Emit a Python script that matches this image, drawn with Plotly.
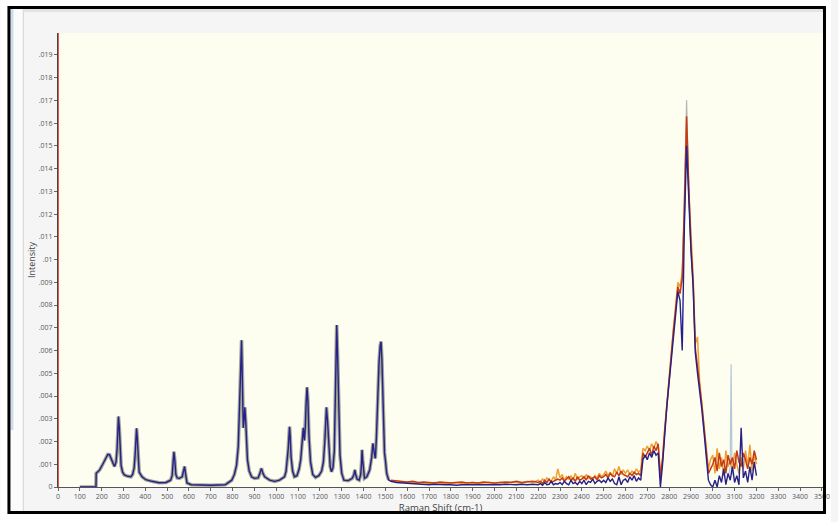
import plotly.graph_objects as go

# ---------------- data (intensity in units of 0.001) ----------------
wavenumber_low = [100, 174, 175, 191, 205, 221, 228, 236, 244, 252, 259, 266, 271, 274, 277, 281, 285, 289,
                  296, 304, 320, 334, 342, 349, 354, 357, 360, 363, 367, 372, 385, 402, 430, 463, 495, 516,
                  523, 527, 531, 535, 540, 546, 556, 569, 575, 580, 585, 591, 610, 645, 700, 766, 780, 796,
                  808, 818, 826, 834, 838, 841, 844, 849, 853, 856, 860, 864, 868, 876, 887, 900, 917, 925,
                  932, 939, 947, 970, 993, 1015, 1038, 1045, 1050, 1055, 1058, 1061, 1064, 1068, 1075, 1083,
                  1095, 1105, 1112, 1118, 1124, 1129, 1133, 1137, 1141, 1145, 1150, 1157, 1167, 1180, 1195,
                  1208, 1216, 1222, 1226, 1230, 1235, 1241, 1247, 1253, 1260, 1266, 1270, 1274, 1277, 1281,
                  1285, 1292, 1300, 1310, 1330, 1348, 1356, 1360, 1364, 1370, 1380, 1387, 1391, 1393, 1396,
                  1400, 1404, 1415, 1428, 1437, 1443, 1449, 1454, 1459, 1463, 1467, 1471, 1476, 1480, 1484,
                  1488, 1492, 1496, 1500, 1506, 1515]
intensity_low = [0, 0, 0.6, 0.75, 1.0, 1.33, 1.43, 1.42, 1.27, 1.05, 0.9, 1.1, 1.7, 2.5, 3.1, 2.6, 1.6, 0.95,
                 0.65, 0.53, 0.47, 0.45, 0.55, 0.85, 1.5, 2.1, 2.58, 2.2, 1.2, 0.65, 0.45, 0.32, 0.25, 0.19, 0.2, 0.3,
                 0.5, 0.9, 1.55, 1.2, 0.55, 0.4, 0.38, 0.45, 0.65, 0.9, 0.55, 0.18, 0.1, 0.09, 0.08, 0.1, 0.18, 0.3,
                 0.55, 0.95, 1.8, 3.8, 5.5, 6.45, 5.3, 2.6, 3.0, 3.5, 2.9, 1.8, 1.2, 0.7, 0.45, 0.38, 0.4, 0.6,
                 0.82, 0.6, 0.45, 0.3, 0.25, 0.3, 0.45, 0.7, 1.1, 1.7, 2.2, 2.65, 2.2, 1.3, 0.7, 0.45,
                 0.5, 0.8, 1.2, 1.8, 2.6, 2.05, 2.6, 3.7, 4.38, 3.8, 2.2, 1.1, 0.55, 0.42, 0.5,
                 0.7, 1.1, 1.9, 2.8, 3.5, 2.9, 1.6, 0.9, 0.67, 0.85, 1.6, 3.2, 5.6, 7.12, 5.8,
                 3.5, 1.4, 0.6, 0.3, 0.28, 0.38, 0.55, 0.75, 0.55, 0.35, 0.3, 0.55, 1.1, 1.63, 1.2,
                 0.6, 0.38, 0.45, 0.75, 1.3, 1.92, 1.5, 1.26, 2.2, 3.6, 4.6, 5.5, 6.2, 6.39, 5.6,
                 4.0, 2.4, 1.5, 1.19, 0.6, 0.31]

wavenumber_mid = list(range(1525, 2200, 25))
navy_mid = [0.25, 0.2, 0.18, 0.15, 0.15, 0.12, 0.12, 0.1, 0.12, 0.1, 0.1, 0.1, 0.08, 0.1, 0.1, 0.08, 0.1, 0.1,
            0.08, 0.1, 0.1, 0.12, 0.1, 0.1, 0.12, 0.1, 0.12]
orange_mid = [0.28, 0.25, 0.2, 0.2, 0.2, 0.18, 0.2, 0.15, 0.2, 0.18, 0.15, 0.18, 0.2, 0.15, 0.18, 0.2, 0.15, 0.18,
              0.2, 0.15, 0.2, 0.18, 0.22, 0.2, 0.18, 0.25, 0.2]
red_mid = [0.3, 0.28, 0.25, 0.22, 0.25, 0.2, 0.22, 0.2, 0.18, 0.22, 0.2, 0.18, 0.2, 0.22, 0.18, 0.2, 0.18, 0.22,
           0.2, 0.18, 0.2, 0.22, 0.2, 0.25, 0.2, 0.22, 0.25]

wavenumber_high = list(range(2200, 3210, 10))
navy_high = [0.1, 0.15, 0.08, 0.2, 0.1, 0.12, 0.25, 0.1, 0.15, 0.12,
             0.2, 0.1, 0.25, 0.15, 0.1, 0.3, 0.15, 0.2, 0.1, 0.25,
             0.15, 0.3, 0.1, 0.25, 0.2, 0.35, 0.15, 0.25, 0.3, 0.2,
             0.3, 0.2, 0.4, 0.25, 0.35, 0.15, 0.1, 0.45, 0.1, 0.3,
             0.35, 0.2, 0.45, 0.3, 0.5, 0.25, 0.4, 0.3, 1.2, 1.4,
             1.2, 1.5, 1.3, 1.6, 1.4, 1.5, 0.0, 1.0, 2.4, 3.6,
             4.6, 5.7, 6.7, 7.6, 8.6, 8.2, 6.0, 11.5, 15.0, 12.5,
             10.4, 8.8, 5.9, 5.0, 4.3, 3.4, 2.4, 1.4, 0.3, 0.1,
             0.0, 0.3, 0.0, 0.5, 0.2, 0.8, 0.1, 0.6, 0.3, 0.9,
             0.2, 0.5, 0.1, 2.6, 0.4, 0.7, 0.2, 0.9, 0.3, 1.1,
             0.5]
orange_high = [0.3, 0.2, 0.35, 0.25, 0.4, 0.3, 0.25, 0.45, 0.3, 0.8,
               0.4, 0.55, 0.3, 0.45, 0.35, 0.5, 0.3, 0.6, 0.35, 0.45,
               0.5, 0.35, 0.55, 0.4, 0.45, 0.3, 0.5, 0.4, 0.6, 0.45,
               0.55, 0.7, 0.5, 0.65, 0.45, 0.8, 0.6, 0.9, 0.55, 0.75,
               0.6, 0.75, 0.55, 0.7, 0.6, 0.8, 0.65, 0.75, 1.7, 1.6,
               1.8, 1.6, 1.9, 1.7, 2.0, 1.8, 0.6, 1.3, 2.6, 3.8,
               4.8, 5.9, 7.0, 8.0, 9.0, 8.8, 9.4, 12.0, 15.8, 13.0,
               10.8, 9.3, 6.3, 6.6, 4.6, 3.7, 2.7, 1.7, 0.8, 1.2,
               1.4, 0.6, 1.7, 0.8, 1.3, 0.5, 1.6, 0.9, 1.2, 0.7,
               1.5, 1.0, 0.6, 1.3, 0.8, 1.6, 0.9, 1.85, 0.7, 1.4,
               1.0]
red_high = [0.2, 0.25, 0.15, 0.3, 0.2, 0.35, 0.2, 0.25, 0.3, 0.35,
            0.3, 0.4, 0.25, 0.35, 0.45, 0.3, 0.4, 0.25, 0.45, 0.3,
            0.35, 0.45, 0.3, 0.5, 0.35, 0.4, 0.45, 0.3, 0.5, 0.4,
            0.45, 0.55, 0.4, 0.6, 0.5, 0.45, 0.65, 0.5, 0.7, 0.55,
            0.5, 0.45, 0.6, 0.5, 0.65, 0.55, 0.6, 0.5, 1.5, 1.3,
            1.5, 1.7, 1.4, 1.8, 1.6, 1.9, 0.4, 1.2, 2.5, 3.7,
            4.7, 5.8, 6.9, 7.8, 8.8, 8.5, 9.2, 12.3, 16.3, 13.2,
            10.6, 9.0, 6.1, 5.3, 4.5, 3.6, 2.6, 1.5, 0.6, 0.8,
            1.0, 1.3, 0.7, 1.5, 0.9, 1.2, 0.6, 1.4, 1.0, 1.3,
            0.8, 1.6, 1.1, 0.9, 1.5, 1.2, 0.8, 1.3, 1.0, 1.6,
            1.2]

gray_peak_x = [2860, 2870, 2880, 2890, 2900]
gray_peak_y = [9.0, 12.6, 17.0, 13.2, 10.6]
spike_x = [3075, 3080, 3084, 3088, 3095]
spike_y = [0.6, 0.9, 5.4, 0.7, 0.5]

y_tick_vals = list(range(0, 20))
y_tick_text = ["0", ".001", ".002", ".003", ".004", ".005", ".006", ".007", ".008", ".009",
               ".01", ".011", ".012", ".013", ".014", ".015", ".016", ".017", ".018", ".019"]
x_tick_vals = list(range(0, 3700, 100))
x_tick_text = [str(v) for v in x_tick_vals]

# ---------------- colours ----------------
NAVY = "#25208a"
ORANGE = "#f0a030"
RED = "#c43c16"
HALO = "#a3a794"

fig = go.Figure()
fig.add_trace(go.Scatter(x=wavenumber_low, y=intensity_low, mode="lines",
                         line=dict(color=HALO, width=3.6), hoverinfo="skip"))
fig.add_trace(go.Scatter(x=gray_peak_x, y=gray_peak_y, mode="lines",
                         line=dict(color="#b5b5b5", width=1.2)))
fig.add_trace(go.Scatter(x=spike_x, y=spike_y, mode="lines",
                         line=dict(color="#b4c6d8", width=1.2)))
fig.add_trace(go.Scatter(x=wavenumber_mid + wavenumber_high, y=orange_mid + orange_high, mode="lines",
                         line=dict(color=ORANGE, width=1.5)))
fig.add_trace(go.Scatter(x=wavenumber_mid + wavenumber_high, y=red_mid + red_high, mode="lines",
                         line=dict(color=RED, width=1.5)))
fig.add_trace(go.Scatter(x=wavenumber_low + wavenumber_mid + wavenumber_high,
                         y=intensity_low + navy_mid + navy_high, mode="lines",
                         line=dict(color=NAVY, width=1.4)))

# ---------------- decoration (pixel helpers) ----------------
L, R, T, B = 58, 830, 33, 487


def px(p):
    return (p - L) / (R - L)


def py(p):
    return (B - p) / (B - T)


def rect(x0, y0, x1, y1, fill, layer="below", line_w=0, line_c=None):
    return dict(type="rect", xref="paper", yref="paper",
                x0=px(x0), x1=px(x1), y0=py(y0), y1=py(y1),
                fillcolor=fill, line=dict(width=line_w, color=line_c or fill), layer=layer)


shapes = [
    rect(0, 0, 8, 522, "white"),
    rect(832, 0, 838, 522, "white"),
    rect(0, 0, 838, 7, "white"),
    rect(0, 513, 838, 522, "white"),
    rect(10, 9, 22, 513, "#fbfbfb"),
    rect(10, 9, 13, 430, "#cddbea"),
    rect(22.5, 9, 23.5, 513, "#d6d6d6"),
    rect(23, 9, 832, 12, "#e3e3e3"),
    dict(type="line", xref="x", yref="paper", x0=0, x1=0, y0=0, y1=1,
         line=dict(color="#e8564e", width=2), layer="above"),
    dict(type="rect", xref="paper", yref="paper", x0=px(8.5), x1=px(831.5), y0=py(7.5), y1=py(512.5),
         line=dict(color="black", width=3), fillcolor="rgba(0,0,0,0)", layer="above"),
]

fig.update_layout(
    width=838, height=522,
    margin=dict(l=L, r=838 - R, t=T, b=522 - B),
    paper_bgcolor="#f5f5f5", plot_bgcolor="#fdfdf0",
    showlegend=False,
    font=dict(family="Open Sans", size=7, color="#555555"),
    shapes=shapes,
)
fig.update_xaxes(range=[0, 3505], tickvals=x_tick_vals, ticktext=x_tick_text,
                 ticks="outside", ticklen=3, tickcolor="#666666", showline=True,
                 linecolor="#555555", linewidth=1, showgrid=False, zeroline=False,
                 title=dict(text="Raman Shift (cm-1)", font=dict(size=9.5, color="#444444"), standoff=0))
fig.update_yaxes(range=[0, 19.96], tickvals=y_tick_vals, ticktext=y_tick_text,
                 ticks="outside", ticklen=3, tickcolor="#666666", showline=True,
                 linecolor="#444444", linewidth=1, showgrid=False, zeroline=False,
                 title=dict(text="Intensity", font=dict(size=9, color="#444444"), standoff=1))

fig.write_html("out.html", config={"displayModeBar": False},
               post_script="document.body.style.margin='0px';document.body.style.overflow='hidden';")
